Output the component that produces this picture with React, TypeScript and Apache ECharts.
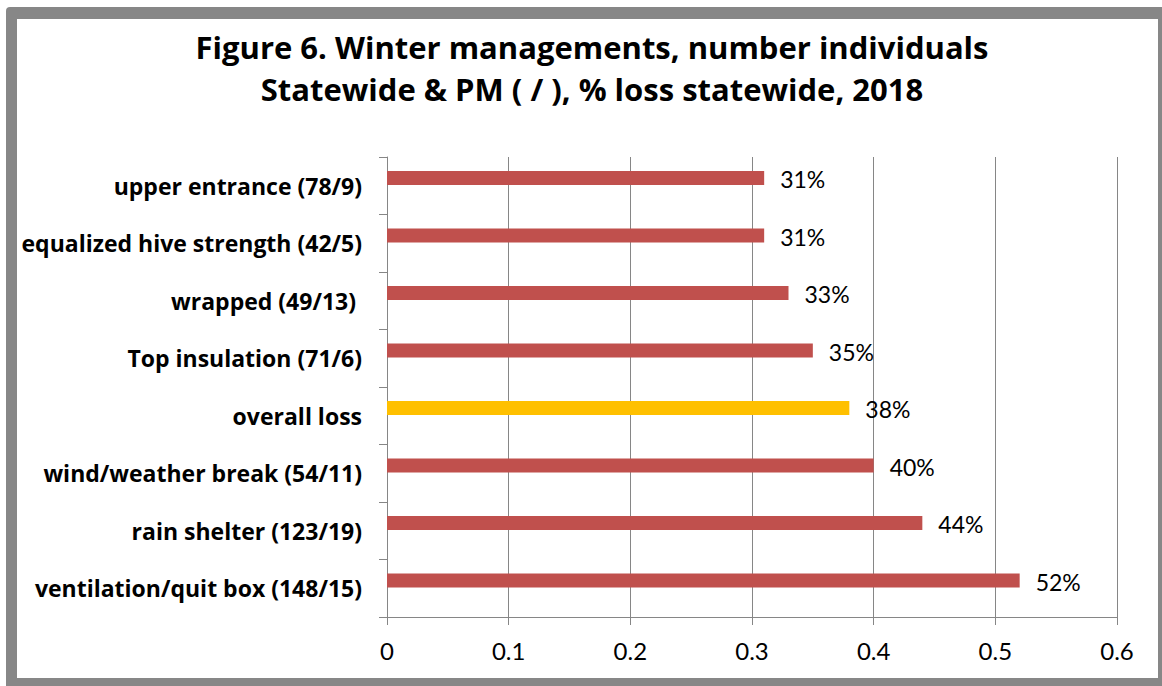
import React, { useEffect, useRef } from "react";
import * as echarts from "echarts";

const categories = [
  "ventilation/quit box (148/15)",
  "rain shelter (123/19)",
  "wind/weather break (54/11)",
  "overall loss",
  "Top insulation (71/6)",
  "wrapped (49/13) ",
  "equalized hive strength (42/5)",
  "upper entrance (78/9)",
];
const lossValues = [0.52, 0.44, 0.4, 0.38, 0.35, 0.33, 0.31, 0.31];
const highlightCategory = "overall loss";
const xTicks = { min: 0, max: 0.6, interval: 0.1 };
const titleLines = [
  "Figure 6. Winter managements, number individuals",
  "Statewide & PM ( / ), % loss statewide, 2018",
];

const RED = "#C0504D";
const YELLOW = "#FFC000";
const FONT = "Lato, 'Open Sans', sans-serif";
const BOLD_FONT = "'Open Sans', Lato, sans-serif";

export default function App() {
  const ref = useRef<HTMLDivElement>(null);
  useEffect(() => {
    if (!ref.current) return;
    const chart = echarts.init(ref.current, undefined, { renderer: "svg" });
    chart.setOption({
      animation: false,
      backgroundColor: "#ffffff",
      graphic: [
        {
          type: "rect",
          z: -10,
          silent: true,
          shape: { x: 6, y: 7, width: 1170, height: 690, r: 4 },
          style: { fill: "#878787" },
        },
        {
          type: "rect",
          z: -9,
          silent: true,
          shape: { x: 17, y: 19, width: 1141, height: 659 },
          style: { fill: "#ffffff" },
        },
      ],
      title: {
        text: titleLines.join("\n"),
        left: 587,
        textAlign: "center",
        top: 21,
        textStyle: {
          fontFamily: BOLD_FONT,
          fontWeight: "bold",
          fontSize: 31,
          lineHeight: 42,
          color: "#000",
        },
      },
      grid: { left: 387, right: 45, top: 157, bottom: 69, containLabel: false },
      xAxis: {
        type: "value",
        min: xTicks.min,
        max: xTicks.max,
        interval: xTicks.interval,
        axisLine: { show: true, lineStyle: { color: "#868686", width: 1 } },
        axisTick: { show: true, length: 8, lineStyle: { color: "#868686" } },
        splitLine: { show: true, lineStyle: { color: "#868686", width: 1 } },
        axisLabel: {
          color: "#000",
          fontSize: 24,
          fontFamily: FONT,
          margin: 21,
        },
      },
      yAxis: {
        type: "category",
        data: categories,
        axisLine: { show: true, lineStyle: { color: "#868686", width: 1 } },
        axisTick: { show: true, length: 8, lineStyle: { color: "#868686" } },
        splitLine: { show: false },
        axisLabel: {
          color: "#000",
          fontSize: 23,
          fontWeight: "bold",
          fontFamily: BOLD_FONT,
          margin: 25,
        },
      },
      series: [
        {
          type: "bar",
          barWidth: 14,
          barGap: "10%",
          data: categories.map((c, i) => ({
            value: lossValues[i],
            itemStyle: { color: c === highlightCategory ? YELLOW : RED },
          })),
          label: {
            show: true,
            position: "right",
            distance: 16,
            color: "#000",
            fontSize: 23,
            fontFamily: FONT,
            offset: [0, 1],
            formatter: (p: any) => Math.round(p.value * 100) + "%",
          },
        },
        {
          type: "bar",
          barWidth: 14,
          barGap: "10%",
          data: categories.map(() => "-"),
        },
      ],
    });
    return () => chart.dispose();
  }, []);
  return (
    <div
      ref={ref}
      style={{ position: "fixed", left: 0, top: 0, width: 1162, height: 686 }}
    />
  );
}
